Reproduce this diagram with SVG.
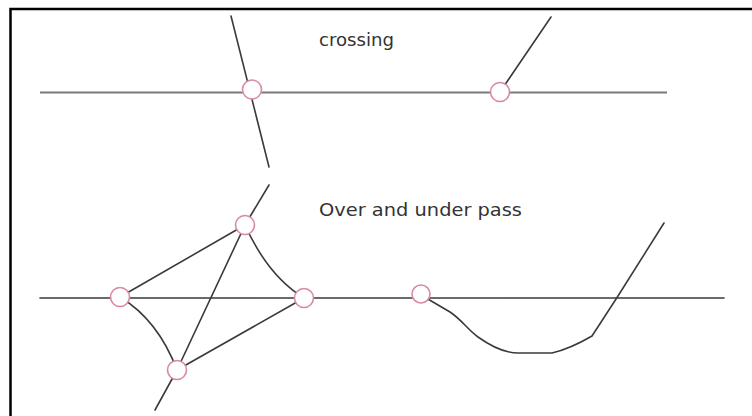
<svg xmlns="http://www.w3.org/2000/svg" width="752" height="416" viewBox="0 0 752 416">
<style>
.frame{fill:none;stroke:#000;stroke-width:2.5}
.gl{fill:none;stroke:#7a7a7a;stroke-width:2}
.dl{fill:none;stroke:#3a3a3a;stroke-width:1.6;stroke-linecap:round;stroke-linejoin:round}
.node{fill:#fff;stroke:#d98aa0;stroke-width:1.6}
.lbl{font-family:"DejaVu Sans","Liberation Sans",sans-serif;font-size:18px;fill:#333}
</style>
<rect width="752" height="416" fill="#fff"/>
<rect class="frame" x="10.5" y="9" width="760" height="420"/>
<g id="labels">
<text class="lbl" x="319" y="46" textLength="75" lengthAdjust="spacingAndGlyphs">crossing</text>
<text class="lbl" x="319" y="216" textLength="203" lengthAdjust="spacingAndGlyphs">Over and under pass</text>
</g>
<g id="connectors">
<line class="gl" x1="40" y1="92.5" x2="667" y2="92.5"/>
<line class="dl" x1="231" y1="16" x2="269" y2="167"/>
<line class="dl" x1="500" y1="92" x2="551" y2="17"/>
<line class="dl" x1="40" y1="298" x2="724" y2="298"/>
<line class="dl" x1="269" y1="185" x2="245" y2="225"/>
<line class="dl" x1="245" y1="225" x2="177" y2="370"/>
<line class="dl" x1="177" y1="370" x2="155" y2="410"/>
<line class="dl" x1="120" y1="297" x2="245" y2="225"/>
<path class="dl" d="M245,225 Q268,276 304,298"/>
<path class="dl" d="M120,297 Q158,320 177,370"/>
<line class="dl" x1="177" y1="370" x2="304" y2="298"/>
<path class="dl" d="M421,295 L450,312 C462,320 468,330 478,337 C492,347 505,353 518,353 L552,353 C565,350 580,343 592,336 L618,296 L664,223"/>
</g>
<g id="n1"><circle class="node" cx="252" cy="89.5" r="9.5"/></g>
<g id="n2"><circle class="node" cx="500" cy="92" r="9.5"/></g>
<g id="n3"><circle class="node" cx="245" cy="225" r="9.5"/></g>
<g id="n4"><circle class="node" cx="120" cy="297" r="9.5"/></g>
<g id="n5"><circle class="node" cx="304" cy="298" r="9.5"/></g>
<g id="n6"><circle class="node" cx="177" cy="370" r="9.5"/></g>
<g id="n7"><circle class="node" cx="421" cy="294" r="9"/></g>
</svg>
